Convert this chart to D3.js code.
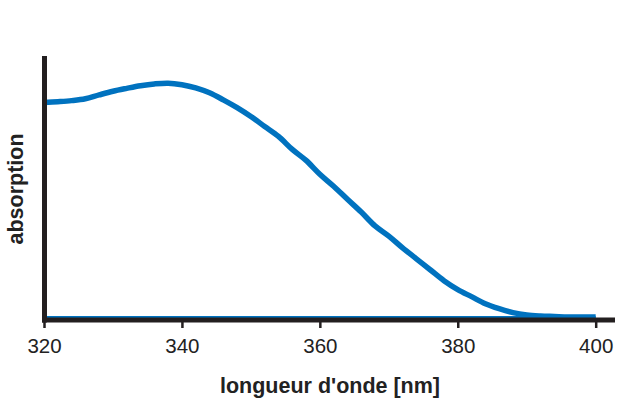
<!DOCTYPE html>
<html><head><meta charset="utf-8">
<script src="https://cdn.jsdelivr.net/npm/d3@7"></script>
<style>body{margin:0;background:#fff}svg{display:block}</style>
</head><body>
<script>
const wavelengths = [320,322,324,326,328,330,332,334,336,338,340,342,344,346,348,350,352,354,356,358,360,362,364,366,368,370,372,374,376,378,380,382,384,386,388,390,392,394,396,398,400];
const absorption = [0.822,0.825,0.829,0.836,0.851,0.865,0.876,0.886,0.893,0.896,0.890,0.878,0.859,0.832,0.802,0.768,0.730,0.692,0.642,0.600,0.547,0.501,0.451,0.402,0.349,0.310,0.265,0.223,0.181,0.139,0.105,0.078,0.051,0.032,0.017,0.008,0.004,0.002,0,0,0];
const baselineX = [320,400];
const baselineY = [0,0];
const xTicks = [320,340,360,380,400];
const xLabel = "longueur d'onde [nm]";
const yLabel = "absorption";

const W=619,H=414;
const svg=d3.select("body").append("svg").attr("width",W).attr("height",H);
const x=d3.scaleLinear().domain([320,402.8]).range([44,615]);
const y=d3.scaleLinear().domain([0,1]).range([317,56]);
const blue="#0072bf", black="#231f20";

const line=d3.line().x(d=>x(d[0])).y(d=>y(d[1]));
// baseline (thin)
svg.append("path").datum(baselineX.map((v,i)=>[v,baselineY[i]]))
  .attr("d",line).attr("fill","none").attr("stroke",blue).attr("stroke-width",2);
// spectrum
svg.append("path").datum(wavelengths.map((v,i)=>[v,absorption[i]]))
  .attr("d",line.curve(d3.curveCatmullRom)).attr("fill","none").attr("stroke",blue)
  .attr("stroke-width",5.5).attr("stroke-linejoin","round");

// x axis
const xa=svg.append("g").attr("transform","translate(0,320)")
  .call(d3.axisBottom(x).tickValues(xTicks).tickFormat(d3.format("d")).tickSize(8).tickPadding(10));
xa.select(".domain").attr("d",`M42,0H615`).attr("stroke",black).attr("stroke-width",5);
xa.selectAll(".tick line").attr("stroke",black).attr("stroke-width",2.5);
xa.selectAll(".tick text").attr("fill","#222").style("font-family","'Liberation Sans',Arial,sans-serif").style("font-size","20.5px");

// y axis line
svg.append("line").attr("x1",44.5).attr("x2",44.5).attr("y1",56).attr("y2",322.5)
  .attr("stroke",black).attr("stroke-width",5);

svg.append("text").attr("x",330).attr("y",393).attr("text-anchor","middle")
  .style("font-family","'Liberation Sans',Arial,sans-serif").style("font-size","21.5px").style("font-weight","bold")
  .attr("fill","#222").text(xLabel);
svg.append("text").attr("transform","translate(23,189) rotate(-90)").attr("text-anchor","middle")
  .style("font-family","'Liberation Sans',Arial,sans-serif").style("font-size","21.5px").style("font-weight","bold")
  .attr("fill","#222").text(yLabel);
</script>
</body></html>
